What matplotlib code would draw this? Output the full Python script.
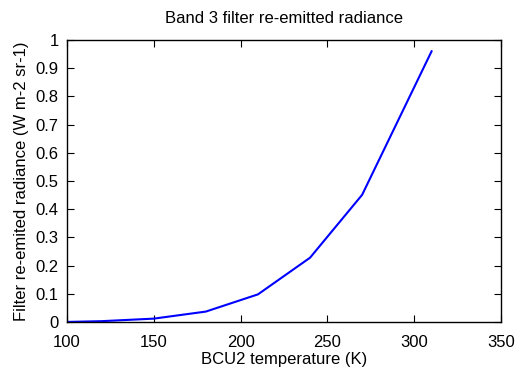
import matplotlib
matplotlib.use("Agg")
import matplotlib.pyplot as plt

# BCU2 temperature (K) vs filter re-emitted radiance
temperature = [100, 120, 150, 180, 210, 240, 270, 310]
radiance = [0.0003, 0.003, 0.012, 0.037, 0.098, 0.228, 0.451, 0.96]

x_ticks = [100, 150, 200, 250, 300, 350]
y_ticks = [0, 0.1, 0.2, 0.3, 0.4, 0.5, 0.6, 0.7, 0.8, 0.9, 1]
y_tick_labels = ["0", "0.1", "0.2", "0.3", "0.4", "0.5", "0.6", "0.7", "0.8", "0.9", "1"]

plt.rcParams['font.family'] = ['Liberation Sans', 'DejaVu Sans']
plt.rcParams['font.size'] = 12

fig = plt.figure(figsize=(5.23, 3.75), dpi=100)
ax = fig.add_axes([0.128, 0.1413, 0.83, 0.752])

ax.plot(temperature, radiance, color='#0000ff', linewidth=1.5)

ax.set_xlim(100, 350)
ax.set_ylim(0, 1)
ax.set_xticks(x_ticks)
ax.set_yticks(y_ticks)
ax.set_yticklabels(y_tick_labels)
ax.tick_params(direction='in', top=True, right=True, length=5, width=0.8)
ax.tick_params(axis='x', pad=9)
ax.tick_params(axis='y', pad=6)
for spine in ax.spines.values():
    spine.set_linewidth(1.0)

ax.set_xlabel('BCU2 temperature (K)', labelpad=2)
ax.set_ylabel('Filter re-emited radiance (W m-2 sr-1)', labelpad=5)
ax.set_title('Band 3 filter re-emitted radiance', fontsize=12, pad=12)

fig.savefig('out.png', dpi=100)
